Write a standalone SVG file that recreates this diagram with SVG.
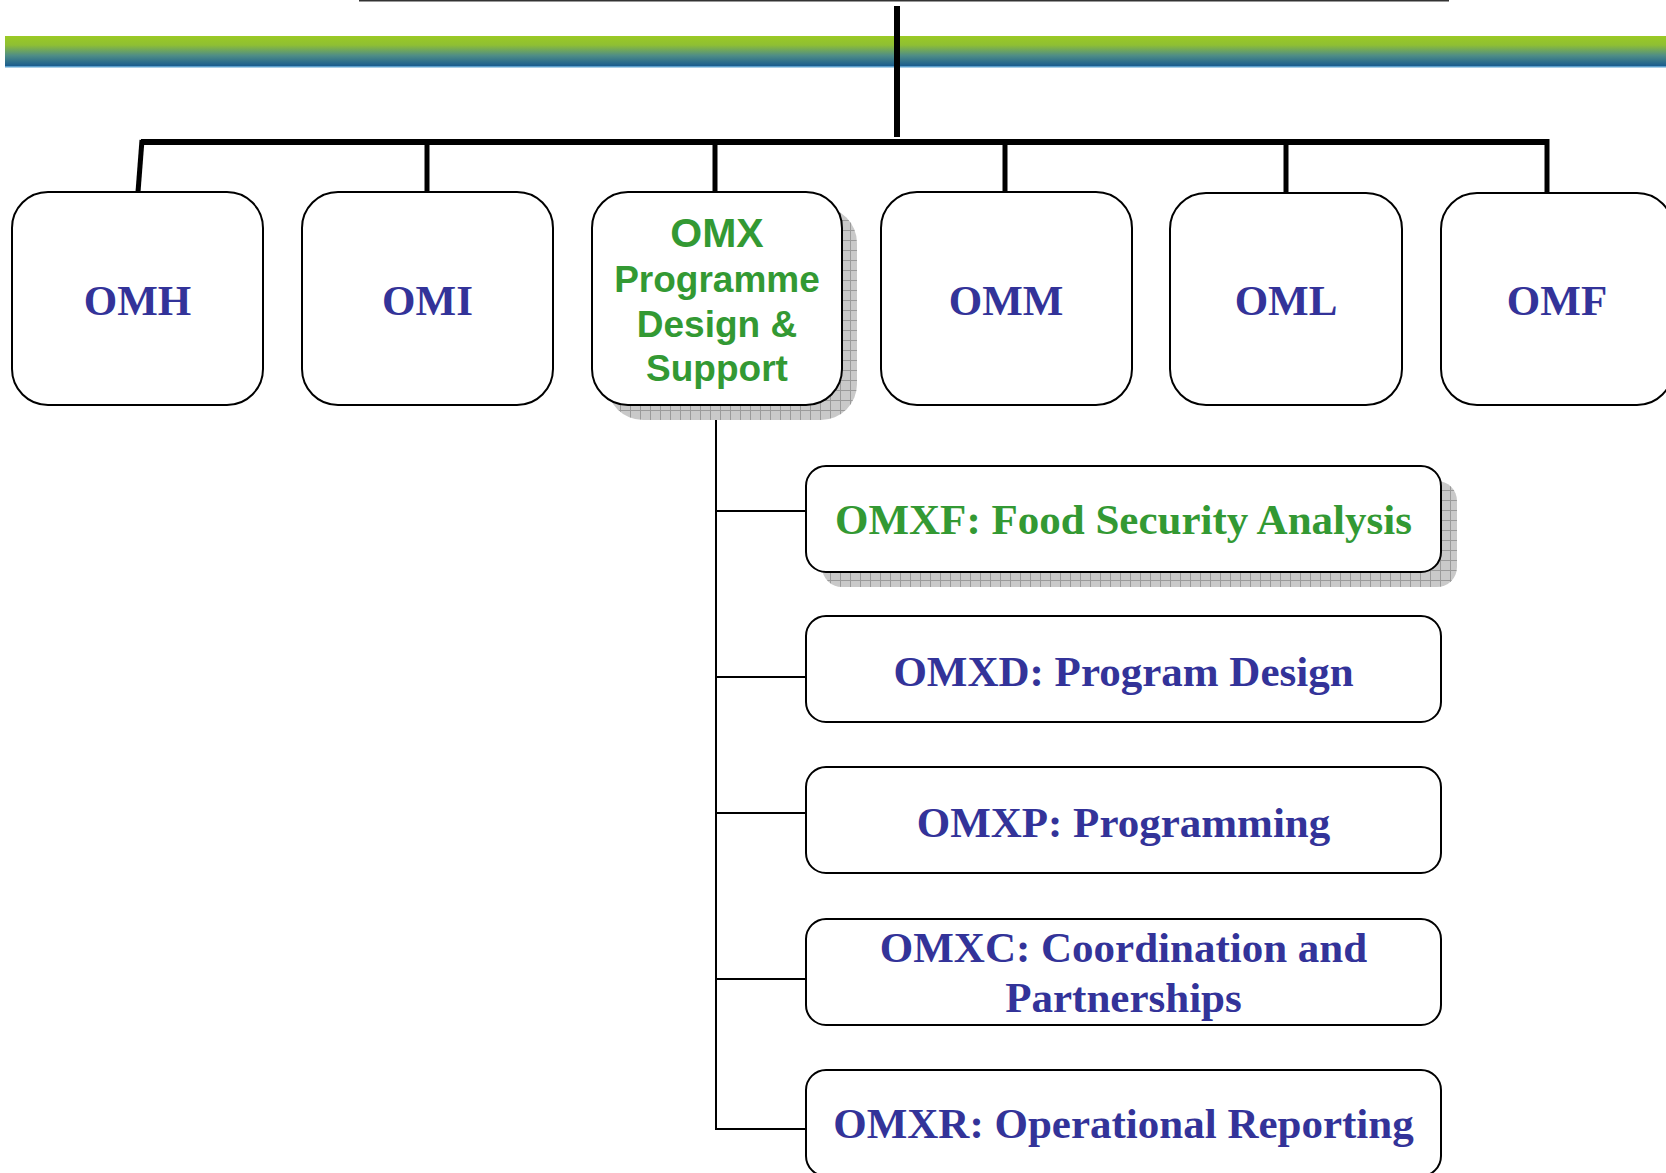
<svg xmlns="http://www.w3.org/2000/svg" width="1666" height="1173" viewBox="0 0 1666 1173">
<style>
.box{fill:#fff;stroke:#000;stroke-width:2}
.t1{font-family:"Liberation Serif","Times New Roman",serif;font-weight:bold;font-size:43px;fill:#333399;text-anchor:middle}
.g{fill:#339933}
.ts{font-family:"Liberation Sans",Arial,sans-serif;font-weight:bold;fill:#339933;text-anchor:middle}
.thick{stroke:#000;stroke-width:5;fill:none}
.thin{stroke:#000;stroke-width:2;fill:none}
.shadow{fill:url(#grid)}
</style>
<defs>
<linearGradient id="band" x1="0" y1="0" x2="0" y2="1">
<stop offset="0" stop-color="#9bca24"/>
<stop offset="0.3" stop-color="#8fbf33"/>
<stop offset="0.65" stop-color="#4f8d86"/>
<stop offset="1" stop-color="#195c8e"/>
</linearGradient>
<pattern id="grid" width="10" height="10" patternUnits="userSpaceOnUse">
<rect width="10" height="10" fill="#c9c9c9"/>
<path d="M0 0.5H10M0.5 0V10" stroke="#9a9a9a" stroke-width="1"/>
</pattern>
</defs>
<rect x="5" y="36" width="1661" height="30" fill="url(#band)"/>
<rect x="5" y="66" width="1661" height="1.5" fill="#5b9fcc"/>
<line x1="359" y1="0.5" x2="1449" y2="0.5" stroke="#333" stroke-width="2"/>
<g id="connectors">
<line class="thick" x1="897" y1="6" x2="897" y2="137" style="stroke-width:6"/>
<line class="thick" x1="141" y1="142" x2="1547" y2="142" style="stroke-width:6"/>
<line class="thick" x1="142" y1="140" x2="138" y2="192"/>
<line class="thick" x1="427" y1="142" x2="427" y2="192"/>
<line class="thick" x1="715" y1="142" x2="715" y2="192"/>
<line class="thick" x1="1005" y1="142" x2="1005" y2="192"/>
<line class="thick" x1="1286" y1="142" x2="1286" y2="192"/>
<line class="thick" x1="1547" y1="139" x2="1547" y2="192"/>
<line class="thin" x1="716" y1="405" x2="716" y2="1130"/>
<line class="thin" x1="715" y1="511" x2="806" y2="511"/>
<line class="thin" x1="715" y1="677" x2="806" y2="677"/>
<line class="thin" x1="715" y1="813" x2="806" y2="813"/>
<line class="thin" x1="715" y1="979" x2="806" y2="979"/>
<line class="thin" x1="715" y1="1129" x2="806" y2="1129"/>
</g>
<g id="OMH"><rect class="box" x="12" y="192" width="251" height="213" rx="36"/><text class="t1" x="137.5" y="315">OMH</text></g>
<g id="OMI"><rect class="box" x="302" y="192" width="251" height="213" rx="36"/><text class="t1" x="427.5" y="315">OMI</text></g>
<g id="OMX">
<rect class="shadow" x="607" y="207" width="250" height="213" rx="36"/>
<rect class="box" x="592" y="192" width="250" height="213" rx="36"/>
<text class="ts" x="717" y="247" font-size="41">OMX</text>
<text class="ts" x="717" y="292" font-size="37">Programme</text>
<text class="ts" x="717" y="337" font-size="37">Design &amp;</text>
<text class="ts" x="717" y="381" font-size="37">Support</text>
</g>
<g id="OMM"><rect class="box" x="881" y="192" width="251" height="213" rx="36"/><text class="t1" x="1006" y="315">OMM</text></g>
<g id="OML"><rect class="box" x="1170" y="193" width="232" height="212" rx="36"/><text class="t1" x="1286" y="315">OML</text></g>
<g id="OMF"><rect class="box" x="1441" y="193" width="232" height="212" rx="36"/><text class="t1" x="1557" y="315">OMF</text></g>
<g id="OMXF">
<rect class="shadow" x="822" y="481" width="635" height="106" rx="20"/>
<rect class="box" x="806" y="466" width="635" height="106" rx="20"/>
<text class="t1 g" x="1123.5" y="534">OMXF: Food Security Analysis</text>
</g>
<g id="OMXD"><rect class="box" x="806" y="616" width="635" height="106" rx="20"/><text class="t1" x="1123.5" y="686">OMXD: Program Design</text></g>
<g id="OMXP"><rect class="box" x="806" y="767" width="635" height="106" rx="20"/><text class="t1" x="1123.5" y="837">OMXP: Programming</text></g>
<g id="OMXC"><rect class="box" x="806" y="919" width="635" height="106" rx="20"/><text class="t1" x="1123.5" y="962">OMXC: Coordination and</text><text class="t1" x="1123.5" y="1012">Partnerships</text></g>
<g id="OMXR"><rect class="box" x="806" y="1070" width="635" height="106" rx="20"/><text class="t1" x="1123.5" y="1138">OMXR: Operational Reporting</text></g>
</svg>
